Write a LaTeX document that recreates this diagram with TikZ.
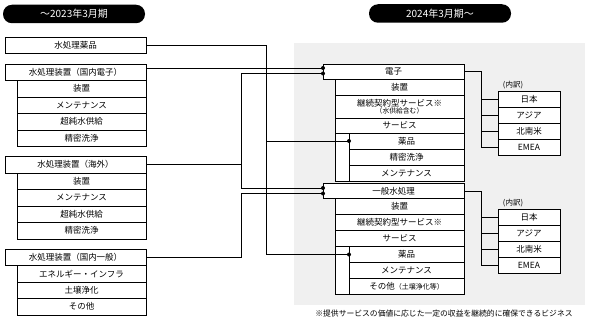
\documentclass[tikz,border=0pt]{standalone}
\usepackage{fontspec}
\setmainfont{Noto Sans CJK JP}
\usetikzlibrary{calc}
\tikzset{
    old box/.style={
        draw, line width=0.8pt, fill=white,
        inner sep=0pt, outer sep=0pt,
        minimum width=141pt, minimum height=16.5pt,
        font=\fontsize{8.5}{10}\selectfont
    },
    old sub/.style={old box, minimum width=129pt},
    new box/.style={old box, minimum height=15pt},
    new sub/.style={old box, minimum width=129pt, minimum height=16pt},
    new subsub/.style={old box, minimum width=115pt, minimum height=16pt},
    area box/.style={old box, minimum width=62pt, minimum height=16pt},
    period pill/.style={
        fill=black, text=white, rounded corners=9pt,
        minimum width=142pt, minimum height=18.5pt, inner sep=0pt,
        font=\fontsize{10}{12}\selectfont
    },
    link/.style={line width=0.8pt}
}

\begin{document}
\begin{tikzpicture}[x=1pt, y=-1pt]
    \useasboundingbox (0,0) rectangle (589,321);
    \fill[black!6] (294,43) rectangle (585,305);
    \node[period pill] (oldHead) at (74,14) {～2023年3月期};
    \node[period pill] (newHead) at (440,13.5) {2024年3月期～};
    % up to 2023
    \node[old box, anchor=north west] (yakuhin) at (5,37) {水処理薬品};
    \node[old box, anchor=north west] (denshiOld) at (5,64) {水処理装置（国内電子）};
    \foreach \name/\txt [remember=\name as \prev (initially denshiOld)] in {dOa/装置, dOb/メンテナンス, dOc/超純水供給, dOd/精密洗浄}
        \node[old sub, anchor=north east] (\name) at (\prev.south east) {\txt};
    \node[old box, anchor=north west] (kaigai) at (5,156.5) {水処理装置（海外）};
    \foreach \name/\txt [remember=\name as \prev (initially kaigai)] in {kOa/装置, kOb/メンテナンス, kOc/超純水供給, kOd/精密洗浄}
        \node[old sub, anchor=north east] (\name) at (\prev.south east) {\txt};
    \node[old box, anchor=north west] (ippanOld) at (5,249) {水処理装置（国内一般）};
    \foreach \name/\txt [remember=\name as \prev (initially ippanOld)] in {iOa/エネルギー・インフラ, iOb/土壌浄化, iOc/その他}
        \node[old sub, anchor=north east] (\name) at (\prev.south east) {\txt};
    % from 2024
    \node[new box, anchor=north west] (denshi) at (323,64) {電子};
    \node[new sub, anchor=north east] (dNa) at (denshi.south east) {装置};
    \node[new sub, anchor=north east, minimum height=23pt, align=center] (dNb) at (dNa.south east) {継続契約型サービス※\\[-3pt]{\fontsize{6.8}{7}\selectfont （水供給含む）}};
    \node[new sub, anchor=north east, minimum height=15pt] (dNc) at (dNb.south east) {サービス};
    \filldraw[link, fill=white] (dNc.south west) rectangle ++(129,48);
    \foreach \name/\txt [remember=\name as \prev (initially dNc)] in {yakuA/薬品, dNe/精密洗浄, dNf/メンテナンス}
        \node[new subsub, anchor=north east] (\name) at (\prev.south east) {\txt};
    \node[new box, anchor=north west] (ippan) at (323,183.5) {一般水処理};
    \node[new sub, anchor=north east] (iNa) at (ippan.south east) {装置};
    \node[new sub, anchor=north east] (iNb) at (iNa.south east) {継続契約型サービス※};
    \node[new sub, anchor=north east] (iNc) at (iNb.south east) {サービス};
    \filldraw[link, fill=white] (iNc.south west) rectangle ++(129,48);
    \foreach \name/\txt [remember=\name as \prev (initially iNc)] in {yakuB/薬品, iNe/メンテナンス, iNf/その他{\fontsize{7}{8}\selectfont（土壌浄化等）}}
        \node[new subsub, anchor=north east] (\name) at (\prev.south east) {\txt};
    % breakdown
    \node[font=\fontsize{7.5}{9}\selectfont] (uchiA) at (513,85) {(内訳)};
    \node[area box, anchor=north west] (jpA) at (498,91) {日本};
    \foreach \name/\txt [remember=\name as \prev (initially jpA)] in {asA/アジア, amA/北南米, emA/EMEA}
        \node[area box, anchor=north west] (\name) at (\prev.south west) {\txt};
    \node[font=\fontsize{7.5}{9}\selectfont] (uchiB) at (513,203) {(内訳)};
    \node[area box, anchor=north west] (jpB) at (498,209.5) {日本};
    \foreach \name/\txt [remember=\name as \prev (initially jpB)] in {asB/アジア, amB/北南米, emB/EMEA}
        \node[area box, anchor=north west] (\name) at (\prev.south west) {\txt};
    \foreach \b in {jpA,asA,amA,emA}
        \draw[link] (denshi.east) -- ++(17,0) |- (\b.west);
    \foreach \b in {jpB,asB,amB,emB}
        \draw[link] (ippan.east) -- ++(17,0) |- (\b.west);
    % old -> new
    \coordinate (inA) at ([yshift=3.5pt]denshi.west);
    \coordinate (inB) at ([yshift=-2pt]denshi.west);
    \coordinate (inC) at ([yshift=3pt]ippan.west);
    \coordinate (inD) at ([yshift=-2.5pt]ippan.west);
    \draw[link] (denshiOld.east |- inA) -- (inA);
    \draw[link] (kaigai.east) -- ++(95,0) |- (inB);
    \draw[link] (kaigai.east) -- ++(95,0) |- (inC);
    \draw[link] (ippanOld.east) -- ++(95,0) |- (inD);
    \draw[link] (yakuhin.east) -- ++(120,0) |- (yakuA.west);
    \draw[link] (yakuhin.east) -- ++(120,0) |- (yakuB.west);
    \foreach \p in {inA,inB,inC,inD,yakuA.west,yakuB.west}
        \fill (\p) circle (2pt);
    \node[font=\fontsize{7.8}{9}\selectfont] (note) at (444,314) {※提供サービスの価値に応じた一定の収益を継続的に確保できるビジネス};
\end{tikzpicture}
\end{document}
